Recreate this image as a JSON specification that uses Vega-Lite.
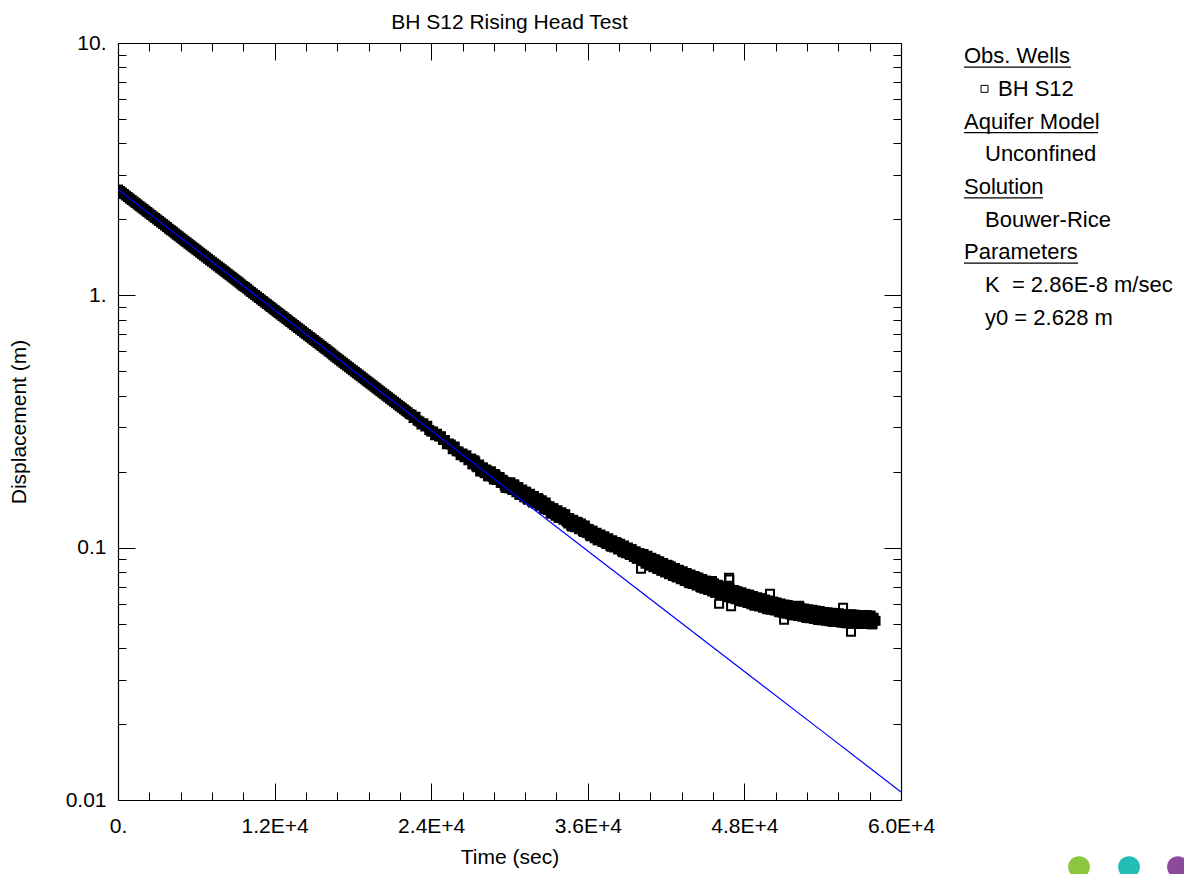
{
  "$schema": "https://vega.github.io/schema/vega-lite/v6.json",
  "background": "white",
  "padding": {"left": 8, "top": 12, "right": 0, "bottom": 0},
  "spacing": 63,
  "bounds": "flush",
  "config": {
    "font": "Liberation Sans",
    "view": {"stroke": null},
    "axis": {
      "labelFont": "Liberation Sans", "titleFont": "Liberation Sans",
      "labelFontSize": 21, "titleFontSize": 21, "titleFontWeight": "normal",
      "labelColor": "black", "titleColor": "black", "tickColor": "black",
      "domainColor": "black", "domainWidth": 1.2, "tickWidth": 1, "grid": false,
      "labelFlush": false, "labelOverlap": false
    }
  },
  "datasets": {
    "obs": [
      {"t":0,"d":2.628},{"t":150,"d":2.592},{"t":300,"d":2.557},{"t":450,"d":2.522},{"t":600,"d":2.487},{"t":750,"d":2.454},{"t":900,"d":2.420},{"t":1050,"d":2.387},{"t":1200,"d":2.354},{"t":1350,"d":2.322},
      {"t":1500,"d":2.291},{"t":1650,"d":2.259},{"t":1800,"d":2.228},{"t":1950,"d":2.198},{"t":2100,"d":2.168},{"t":2250,"d":2.138},{"t":2400,"d":2.109},{"t":2550,"d":2.080},{"t":2700,"d":2.052},{"t":2850,"d":2.024},
      {"t":3000,"d":1.996},{"t":3150,"d":1.969},{"t":3300,"d":1.942},{"t":3450,"d":1.916},{"t":3600,"d":1.890},{"t":3750,"d":1.864},{"t":3900,"d":1.838},{"t":4050,"d":1.813},{"t":4200,"d":1.789},{"t":4350,"d":1.764},
      {"t":4500,"d":1.740},{"t":4650,"d":1.716},{"t":4800,"d":1.693},{"t":4950,"d":1.670},{"t":5100,"d":1.647},{"t":5250,"d":1.624},{"t":5400,"d":1.602},{"t":5550,"d":1.580},{"t":5700,"d":1.559},{"t":5850,"d":1.538},
      {"t":6000,"d":1.517},{"t":6150,"d":1.496},{"t":6300,"d":1.475},{"t":6450,"d":1.455},{"t":6600,"d":1.435},{"t":6750,"d":1.416},{"t":6900,"d":1.396},{"t":7050,"d":1.377},{"t":7200,"d":1.359},{"t":7350,"d":1.340},
      {"t":7500,"d":1.322},{"t":7650,"d":1.304},{"t":7800,"d":1.286},{"t":7950,"d":1.268},{"t":8100,"d":1.251},{"t":8250,"d":1.234},{"t":8400,"d":1.217},{"t":8550,"d":1.201},{"t":8700,"d":1.184},{"t":8850,"d":1.168},
      {"t":9000,"d":1.152},{"t":9150,"d":1.136},{"t":9300,"d":1.121},{"t":9450,"d":1.105},{"t":9600,"d":1.090},{"t":9750,"d":1.076},{"t":9900,"d":1.061},{"t":10050,"d":1.046},{"t":10200,"d":1.032},{"t":10350,"d":1.018},
      {"t":10500,"d":1.004},{"t":10650,"d":0.9904},{"t":10800,"d":0.9769},{"t":10950,"d":0.9635},{"t":11100,"d":0.9504},{"t":11250,"d":0.9374},{"t":11400,"d":0.9246},{"t":11550,"d":0.9120},{"t":11700,"d":0.8996},{"t":11850,"d":0.8873},
      {"t":12000,"d":0.8752},{"t":12150,"d":0.8632},{"t":12300,"d":0.8514},{"t":12450,"d":0.8398},{"t":12600,"d":0.8283},{"t":12750,"d":0.8170},{"t":12900,"d":0.8059},{"t":13050,"d":0.7949},{"t":13200,"d":0.7840},{"t":13350,"d":0.7733},
      {"t":13500,"d":0.7628},{"t":13650,"d":0.7523},{"t":13800,"d":0.7421},{"t":13950,"d":0.7319},{"t":14100,"d":0.7220},{"t":14250,"d":0.7121},{"t":14400,"d":0.7024},{"t":14550,"d":0.6928},{"t":14700,"d":0.6833},{"t":14850,"d":0.6740},
      {"t":15000,"d":0.6648},{"t":15150,"d":0.6557},{"t":15300,"d":0.6468},{"t":15450,"d":0.6380},{"t":15600,"d":0.6292},{"t":15750,"d":0.6207},{"t":15900,"d":0.6122},{"t":16050,"d":0.6038},{"t":16200,"d":0.5956},{"t":16350,"d":0.5875},
      {"t":16500,"d":0.5794},{"t":16650,"d":0.5715},{"t":16800,"d":0.5637},{"t":16950,"d":0.5560},{"t":17100,"d":0.5484},{"t":17250,"d":0.5409},{"t":17400,"d":0.5336},{"t":17550,"d":0.5263},{"t":17700,"d":0.5191},{"t":17850,"d":0.5120},
      {"t":18000,"d":0.5050},{"t":18150,"d":0.4981},{"t":18300,"d":0.4913},{"t":18450,"d":0.4846},{"t":18600,"d":0.4780},{"t":18750,"d":0.4715},{"t":18900,"d":0.4650},{"t":19050,"d":0.4587},{"t":19200,"d":0.4524},{"t":19350,"d":0.4463},
      {"t":19500,"d":0.4402},{"t":19650,"d":0.4342},{"t":19800,"d":0.4282},{"t":19950,"d":0.4224},{"t":20100,"d":0.4166},{"t":20250,"d":0.4109},{"t":20400,"d":0.4053},{"t":20550,"d":0.3998},{"t":20700,"d":0.3943},{"t":20850,"d":0.3890},
      {"t":21000,"d":0.3836},{"t":21150,"d":0.3784},{"t":21300,"d":0.3732},{"t":21450,"d":0.3681},{"t":21600,"d":0.3631},{"t":21750,"d":0.3582},{"t":21900,"d":0.3533},{"t":22050,"d":0.3485},{"t":22200,"d":0.3437},{"t":22350,"d":0.3390},
      {"t":22500,"d":0.3361},{"t":22650,"d":0.3265},{"t":22800,"d":0.3302},{"t":22950,"d":0.3193},{"t":23100,"d":0.3165},{"t":23250,"d":0.3075},{"t":23400,"d":0.3110},{"t":23550,"d":0.3022},{"t":23700,"d":0.3041},{"t":23850,"d":0.2925},
      {"t":24000,"d":0.2885},{"t":24150,"d":0.2889},{"t":24300,"d":0.2792},{"t":24450,"d":0.2825},{"t":24600,"d":0.2758},{"t":24750,"d":0.2762},{"t":24900,"d":0.2671},{"t":25050,"d":0.2673},{"t":25200,"d":0.2572},{"t":25350,"d":0.2588},
      {"t":25500,"d":0.2565},{"t":25650,"d":0.2455},{"t":25800,"d":0.2520},{"t":25950,"d":0.2413},{"t":26100,"d":0.2404},{"t":26250,"d":0.2324},{"t":26400,"d":0.2362},{"t":26550,"d":0.2284},{"t":26700,"d":0.2322},{"t":26850,"d":0.2222},
      {"t":27000,"d":0.2236},{"t":27150,"d":0.2140},{"t":27300,"d":0.2219},{"t":27450,"d":0.2103},{"t":27600,"d":0.2095},{"t":27750,"d":0.2005},{"t":27900,"d":0.2080},{"t":28050,"d":0.1991},{"t":28200,"d":0.2042},{"t":28350,"d":0.1917},
      {"t":28500,"d":0.1929},{"t":28650,"d":0.1962},{"t":28800,"d":0.1862},{"t":28950,"d":0.1932},{"t":29100,"d":0.1870},{"t":29250,"d":0.1901},{"t":29400,"d":0.1804},{"t":29550,"d":0.1835},{"t":29700,"d":0.1723},{"t":29850,"d":0.1771},
      {"t":30000,"d":0.1783},{"t":30150,"d":0.1710},{"t":30300,"d":0.1778},{"t":30450,"d":0.1691},{"t":30600,"d":0.1689},{"t":30750,"d":0.1620},{"t":30900,"d":0.1685},{"t":31050,"d":0.1617},{"t":31200,"d":0.1664},{"t":31350,"d":0.1565},
      {"t":31500,"d":0.1556},{"t":31650,"d":0.1587},{"t":31800,"d":0.1509},{"t":31950,"d":0.1573},{"t":32100,"d":0.1526},{"t":32250,"d":0.1556},{"t":32400,"d":0.1481},{"t":32550,"d":0.1510},{"t":32700,"d":0.1422},{"t":32850,"d":0.1467},
      {"t":33000,"d":0.1432},{"t":33150,"d":0.1376},{"t":33300,"d":0.1434},{"t":33450,"d":0.1365},{"t":33600,"d":0.1366},{"t":33750,"d":0.1313},{"t":33900,"d":0.1368},{"t":34050,"d":0.1315},{"t":34200,"d":0.1355},{"t":34350,"d":0.1278},
      {"t":34500,"d":0.1248},{"t":34650,"d":0.1275},{"t":34800,"d":0.1214},{"t":34950,"d":0.1266},{"t":35100,"d":0.1231},{"t":35250,"d":0.1257},{"t":35400,"d":0.1198},{"t":35550,"d":0.1224},{"t":35700,"d":0.1154},{"t":35850,"d":0.1192},
      {"t":36000,"d":0.1164},{"t":36150,"d":0.1120},{"t":36300,"d":0.1167},{"t":36450,"d":0.1112},{"t":36600,"d":0.1114},{"t":36750,"d":0.1071},{"t":36900,"d":0.1117},{"t":37050,"d":0.1075},{"t":37200,"d":0.1108},{"t":37350,"d":0.1046},
      {"t":37500,"d":0.1037},{"t":37650,"d":0.1059},{"t":37800,"d":0.1009},{"t":37950,"d":0.1053},{"t":38100,"d":0.1023},{"t":38250,"d":0.1044},{"t":38400,"d":0.0996},{"t":38550,"d":0.1017},{"t":38700,"d":0.0959},{"t":38850,"d":0.0990},
      {"t":39000,"d":0.0982},{"t":39150,"d":0.0945},{"t":39300,"d":0.0985},{"t":39450,"d":0.0938},{"t":39600,"d":0.0939},{"t":39750,"d":0.0903},{"t":39900,"d":0.0942},{"t":40050,"d":0.0907},{"t":40200,"d":0.0935},{"t":40350,"d":0.0882},
      {"t":40500,"d":0.0875},{"t":40650,"d":0.0894},{"t":40800,"d":0.0852},{"t":40950,"d":0.0888},{"t":41100,"d":0.0864},{"t":41250,"d":0.0883},{"t":41400,"d":0.0842},{"t":41550,"d":0.0861},{"t":41700,"d":0.0812},{"t":41850,"d":0.0838},
      {"t":42000,"d":0.0831},{"t":42150,"d":0.0801},{"t":42300,"d":0.0835},{"t":42450,"d":0.0797},{"t":42600,"d":0.0799},{"t":42750,"d":0.0769},{"t":42900,"d":0.0803},{"t":43050,"d":0.0773},{"t":43200,"d":0.0798},{"t":43350,"d":0.0754},
      {"t":43500,"d":0.0748},{"t":43650,"d":0.0766},{"t":43800,"d":0.0723},{"t":43950,"d":0.0762},{"t":44100,"d":0.0742},{"t":44250,"d":0.0766},{"t":44400,"d":0.0725},{"t":44550,"d":0.0742},{"t":44700,"d":0.0693},{"t":44850,"d":0.0724},
      {"t":45000,"d":0.0719},{"t":45150,"d":0.0694},{"t":45300,"d":0.0731},{"t":45450,"d":0.0692},{"t":45600,"d":0.0695},{"t":45750,"d":0.0662},{"t":45900,"d":0.0700},{"t":46050,"d":0.0675},{"t":46200,"d":0.0705},{"t":46350,"d":0.0660},
      {"t":46500,"d":0.0656},{"t":46650,"d":0.0672},{"t":46800,"d":0.0636},{"t":46950,"d":0.0671},{"t":47100,"d":0.0654},{"t":47250,"d":0.0676},{"t":47400,"d":0.0640},{"t":47550,"d":0.0656},{"t":47700,"d":0.0613},{"t":47850,"d":0.0641},
      {"t":48000,"d":0.0638},{"t":48150,"d":0.0615},{"t":48300,"d":0.0650},{"t":48450,"d":0.0616},{"t":48600,"d":0.0619},{"t":48750,"d":0.0590},{"t":48900,"d":0.0624},{"t":49050,"d":0.0603},{"t":49200,"d":0.0630},{"t":49350,"d":0.0590},
      {"t":49500,"d":0.0587},{"t":49650,"d":0.0602},{"t":49800,"d":0.0570},{"t":49950,"d":0.0603},{"t":50100,"d":0.0588},{"t":50250,"d":0.0609},{"t":50400,"d":0.0577},{"t":50550,"d":0.0592},{"t":50700,"d":0.0555},{"t":50850,"d":0.0581},
      {"t":51000,"d":0.0578},{"t":51150,"d":0.0559},{"t":51300,"d":0.0591},{"t":51450,"d":0.0560},{"t":51600,"d":0.0564},{"t":51750,"d":0.0540},{"t":51900,"d":0.0571},{"t":52050,"d":0.0552},{"t":52200,"d":0.0578},{"t":52350,"d":0.0543},
      {"t":52500,"d":0.0541},{"t":52650,"d":0.0556},{"t":52800,"d":0.0526},{"t":52950,"d":0.0558},{"t":53100,"d":0.0545},{"t":53250,"d":0.0565},{"t":53400,"d":0.0537},{"t":53550,"d":0.0551},{"t":53700,"d":0.0517},{"t":53850,"d":0.0542},
      {"t":54000,"d":0.0540},{"t":54150,"d":0.0523},{"t":54300,"d":0.0554},{"t":54450,"d":0.0527},{"t":54600,"d":0.0531},{"t":54750,"d":0.0509},{"t":54900,"d":0.0540},{"t":55050,"d":0.0523},{"t":55200,"d":0.0548},{"t":55350,"d":0.0515},
      {"t":55500,"d":0.0514},{"t":55650,"d":0.0529},{"t":55800,"d":0.0502},{"t":55950,"d":0.0533},{"t":56100,"d":0.0522},{"t":56250,"d":0.0543},{"t":56400,"d":0.0516},{"t":56550,"d":0.0531},{"t":56700,"d":0.0499},{"t":56850,"d":0.0525},
      {"t":57000,"d":0.0525},{"t":57150,"d":0.0509},{"t":57300,"d":0.0540},{"t":57450,"d":0.0514},{"t":57600,"d":0.0518},{"t":57750,"d":0.0497},{"t":57900,"d":0.0528},{"t":58050,"d":0.0513},
      {"t":27075,"d":0.2258},{"t":27225,"d":0.2140},{"t":27375,"d":0.2197},{"t":27525,"d":0.2082},{"t":27675,"d":0.2137},{"t":27825,"d":0.2026},{"t":27975,"d":0.2080},{"t":28125,"d":0.1971},{"t":28275,"d":0.2023},{"t":28425,"d":0.1917},
      {"t":28575,"d":0.2008},{"t":28725,"d":0.1904},{"t":28875,"d":0.1957},{"t":29025,"d":0.1856},{"t":29175,"d":0.1907},{"t":29325,"d":0.1809},{"t":29475,"d":0.1859},{"t":29625,"d":0.1764},{"t":29775,"d":0.1812},{"t":29925,"d":0.1719},
      {"t":30075,"d":0.1818},{"t":30225,"d":0.1693},{"t":30375,"d":0.1778},{"t":30525,"d":0.1657},{"t":30675,"d":0.1740},{"t":30825,"d":0.1620},{"t":30975,"d":0.1701},{"t":31125,"d":0.1585},{"t":31275,"d":0.1664},{"t":31425,"d":0.1550},
      {"t":31575,"d":0.1635},{"t":31725,"d":0.1525},{"t":31875,"d":0.1603},{"t":32025,"d":0.1495},{"t":32175,"d":0.1572},{"t":32325,"d":0.1466},{"t":32475,"d":0.1540},{"t":32625,"d":0.1436},{"t":32775,"d":0.1510},{"t":32925,"d":0.1409},
      {"t":33075,"d":0.1460},{"t":33225,"d":0.1362},{"t":33375,"d":0.1434},{"t":33525,"d":0.1337},{"t":33675,"d":0.1407},{"t":33825,"d":0.1313},{"t":33975,"d":0.1381},{"t":34125,"d":0.1289},{"t":34275,"d":0.1355},{"t":34425,"d":0.1265},
      {"t":34575,"d":0.1312},{"t":34725,"d":0.1225},{"t":34875,"d":0.1289},{"t":35025,"d":0.1204},{"t":35175,"d":0.1268},{"t":35325,"d":0.1183},{"t":35475,"d":0.1246},{"t":35625,"d":0.1164},{"t":35775,"d":0.1225},{"t":35925,"d":0.1144},
      {"t":36075,"d":0.1187},{"t":36225,"d":0.1109},{"t":36375,"d":0.1167},{"t":36525,"d":0.1089},{"t":36675,"d":0.1147},{"t":36825,"d":0.1071},{"t":36975,"d":0.1128},{"t":37125,"d":0.1053},{"t":37275,"d":0.1108},{"t":37425,"d":0.1035},
      {"t":37575,"d":0.1090},{"t":37725,"d":0.1018},{"t":37875,"d":0.1071},{"t":38025,"d":0.1001},{"t":38175,"d":0.1054},{"t":38325,"d":0.0984},{"t":38475,"d":0.1036},{"t":38625,"d":0.0967},{"t":38775,"d":0.1019},{"t":38925,"d":0.0951},
      {"t":39075,"d":0.1001},{"t":39225,"d":0.0935},{"t":39375,"d":0.0985},{"t":39525,"d":0.0919},{"t":39675,"d":0.0967},{"t":39825,"d":0.0903},{"t":39975,"d":0.0952},{"t":40125,"d":0.0889},{"t":40275,"d":0.0944},{"t":40425,"d":0.0864},
      {"t":40575,"d":0.0929},{"t":40725,"d":0.0850},{"t":40875,"d":0.0913},{"t":41025,"d":0.0836},{"t":41175,"d":0.0899},{"t":41325,"d":0.0823},{"t":41475,"d":0.0884},{"t":41625,"d":0.0810},{"t":41775,"d":0.0870},{"t":41925,"d":0.0797},
      {"t":42075,"d":0.0856},{"t":42225,"d":0.0784},{"t":42375,"d":0.0843},{"t":42525,"d":0.0773},{"t":42675,"d":0.0831},{"t":42825,"d":0.0761},{"t":42975,"d":0.0818},{"t":43125,"d":0.0750},{"t":43275,"d":0.0806},{"t":43425,"d":0.0738},
      {"t":43575,"d":0.0794},{"t":43725,"d":0.0728},{"t":43875,"d":0.0783},{"t":44025,"d":0.0717},{"t":44175,"d":0.0772},{"t":44325,"d":0.0708},{"t":44475,"d":0.0761},{"t":44625,"d":0.0698},{"t":44775,"d":0.0751},{"t":44925,"d":0.0688},
      {"t":45075,"d":0.0740},{"t":45225,"d":0.0680},{"t":45375,"d":0.0731},{"t":45525,"d":0.0671},{"t":45675,"d":0.0723},{"t":45825,"d":0.0662},{"t":45975,"d":0.0713},{"t":46125,"d":0.0655},{"t":46275,"d":0.0705},{"t":46425,"d":0.0646},
      {"t":46575,"d":0.0696},{"t":46725,"d":0.0638},{"t":46875,"d":0.0688},{"t":47025,"d":0.0632},{"t":47175,"d":0.0680},{"t":47325,"d":0.0624},{"t":47475,"d":0.0672},{"t":47625,"d":0.0617},{"t":47775,"d":0.0665},{"t":47925,"d":0.0610},
      {"t":48075,"d":0.0657},{"t":48225,"d":0.0603},{"t":48375,"d":0.0650},{"t":48525,"d":0.0597},{"t":48675,"d":0.0644},{"t":48825,"d":0.0590},{"t":48975,"d":0.0636},{"t":49125,"d":0.0585},{"t":49275,"d":0.0630},{"t":49425,"d":0.0578},
      {"t":49575,"d":0.0623},{"t":49725,"d":0.0572},{"t":49875,"d":0.0618},{"t":50025,"d":0.0567},{"t":50175,"d":0.0612},{"t":50325,"d":0.0563},{"t":50475,"d":0.0606},{"t":50625,"d":0.0557},{"t":50775,"d":0.0601},{"t":50925,"d":0.0552},
      {"t":51075,"d":0.0595},{"t":51225,"d":0.0547},{"t":51375,"d":0.0591},{"t":51525,"d":0.0543},{"t":51675,"d":0.0587},{"t":51825,"d":0.0540},{"t":51975,"d":0.0582},{"t":52125,"d":0.0536},{"t":52275,"d":0.0578},{"t":52425,"d":0.0532},
      {"t":52575,"d":0.0574},{"t":52725,"d":0.0528},{"t":52875,"d":0.0570},{"t":53025,"d":0.0525},{"t":53175,"d":0.0567},{"t":53325,"d":0.0521},{"t":53475,"d":0.0564},{"t":53625,"d":0.0518},{"t":53775,"d":0.0561},{"t":53925,"d":0.0516},
      {"t":54075,"d":0.0556},{"t":54225,"d":0.0513},{"t":54375,"d":0.0554},{"t":54525,"d":0.0511},{"t":54675,"d":0.0552},{"t":54825,"d":0.0509},{"t":54975,"d":0.0550},{"t":55125,"d":0.0507},{"t":55275,"d":0.0548},{"t":55425,"d":0.0504},
      {"t":55575,"d":0.0545},{"t":55725,"d":0.0503},{"t":55875,"d":0.0544},{"t":56025,"d":0.0502},{"t":56175,"d":0.0543},{"t":56325,"d":0.0501},{"t":56475,"d":0.0542},{"t":56625,"d":0.0500},{"t":56775,"d":0.0541},{"t":56925,"d":0.0499},
      {"t":57075,"d":0.0541},{"t":57225,"d":0.0498},{"t":57375,"d":0.0540},{"t":57525,"d":0.0498},{"t":57675,"d":0.0539},{"t":57825,"d":0.0497}
    ],
    "obsScatter": [
      {"t":40080,"d":0.0825},{"t":42220,"d":0.0850},{"t":45060,"d":0.0740},{"t":45520,"d":0.0738},{"t":46060,"d":0.0600},{"t":46820,"d":0.0760},{"t":46850,"d":0.0748},{"t":46980,"d":0.0586},{"t":49960,"d":0.0657},{"t":51040,"d":0.0518},{"t":52190,"d":0.0589},{"t":55560,"d":0.0578},{"t":56170,"d":0.0464}
    ],
    "fit": [
      {"t":0,"d":2.628},{"t":6000,"d":1.5165},{"t":12000,"d":0.8752},{"t":18000,"d":0.5050},{"t":24000,"d":0.2914},{"t":30000,"d":0.16815},{"t":36000,"d":0.09706},{"t":42000,"d":0.05602},{"t":48000,"d":0.03233},{"t":54000,"d":0.01866},{"t":60000,"d":0.010764}
    ],
    "legendText": [
      {"row":0,"label":"Obs. Wells","indent":0,"ul":107},
      {"row":1,"label":"BH S12","indent":34},
      {"row":2,"label":"Aquifer Model","indent":0,"ul":134},
      {"row":3,"label":"Unconfined","indent":21},
      {"row":4,"label":"Solution","indent":0,"ul":79},
      {"row":5,"label":"Bouwer-Rice","indent":21},
      {"row":6,"label":"Parameters","indent":0,"ul":114},
      {"row":7,"label":"K\u00a0 = 2.86E-8 m/sec","indent":21},
      {"row":8,"label":"y0 = 2.628 m","indent":21}
    ],
    "legendSymbol": [{"row":1,"indent":20.5}],
    "logo": [
      {"row":24.82,"indent":115,"name":"green"},
      {"row":24.82,"indent":165,"name":"teal"},
      {"row":24.82,"indent":214,"name":"purple"}
    ]
  },
  "hconcat": [
    {
      "title": {"text": "BH S12 Rising Head Test", "fontSize": 21, "fontWeight": "normal", "font": "Liberation Sans", "color": "black", "offset": -1, "anchor": "middle"},
      "width": 783,
      "height": 757,
      "layer": [
        {
          "data": {"name": "obs"},
          "mark": {"type": "point", "shape": "square", "size": 64, "strokeWidth": 2, "color": "black", "opacity": 1, "filled": true, "stroke": "black", "clip": true},
          "encoding": {
            "x": {"field": "t", "type": "quantitative", "scale": {"domain": [0, 60000], "nice": false, "zero": false},
              "axis": {"orient": "bottom",
                "values": [0,2400,4800,7200,9600,12000,14400,16800,19200,21600,24000,26400,28800,31200,33600,36000,38400,40800,43200,45600,48000,50400,52800,55200,57600,60000],
                "tickSize": {"condition": {"test": "datum.value % 12000 === 0", "value": -17}, "value": -8},
                "labelExpr": "datum.value % 12000 === 0 ? (datum.value === 0 ? '0.' : format(datum.value / 10000, '.1f') + 'E+4') : ''",
                "labelPadding": 32, "title": "Time (sec)", "titlePadding": 1}},
            "y": {"field": "d", "type": "quantitative", "scale": {"type": "log", "domain": [0.01, 10], "nice": false},
              "axis": {"orient": "left",
                "values": [0.01,0.02,0.03,0.04,0.05,0.06,0.07,0.08,0.09,0.1,0.2,0.3,0.4,0.5,0.6,0.7,0.8,0.9,1,2,3,4,5,6,7,8,9,10],
                "tickSize": {"condition": {"test": "datum.value === 0.01 || datum.value === 0.1 || datum.value === 1 || datum.value === 10", "value": -17}, "value": -8},
                "labelExpr": "datum.value === 10 ? '10.' : datum.value === 1 ? '1.' : datum.value === 0.1 ? '0.1' : datum.value === 0.01 ? '0.01' : ''",
                "labelPadding": 29, "title": "Displacement (m)", "titlePadding": 36}}
          }
        },
        {
          "data": {"name": "obsScatter"},
          "mark": {"type": "point", "shape": "square", "size": 64, "strokeWidth": 2, "color": "black", "opacity": 1, "filled": false, "clip": true},
          "encoding": {
            "x": {"field": "t", "type": "quantitative", "axis": null},
            "y": {"field": "d", "type": "quantitative", "axis": null}
          }
        },
        {
          "data": {"name": "fit"},
          "mark": {"type": "line", "color": "#0000ff", "strokeWidth": 1.2, "clip": true},
          "encoding": {
            "x": {"field": "t", "type": "quantitative",
              "axis": {"orient": "top",
                "values": [0,2400,4800,7200,9600,12000,14400,16800,19200,21600,24000,26400,28800,31200,33600,36000,38400,40800,43200,45600,48000,50400,52800,55200,57600,60000],
                "tickSize": {"condition": {"test": "datum.value % 12000 === 0", "value": -17}, "value": -8},
                "labels": false, "title": null}},
            "y": {"field": "d", "type": "quantitative",
              "axis": {"orient": "right",
                "values": [0.01,0.02,0.03,0.04,0.05,0.06,0.07,0.08,0.09,0.1,0.2,0.3,0.4,0.5,0.6,0.7,0.8,0.9,1,2,3,4,5,6,7,8,9,10],
                "tickSize": {"condition": {"test": "datum.value === 0.01 || datum.value === 0.1 || datum.value === 1 || datum.value === 10", "value": -17}, "value": -8},
                "labels": false, "title": null}}
          }
        }
      ],
      "resolve": {"axis": {"x": "independent", "y": "independent"}}
    },
    {
      "width": 221,
      "height": 757,
      "layer": [
        {
          "data": {"name": "legendText"},
          "mark": {"type": "text", "align": "left", "baseline": "middle", "fontSize": 22, "font": "Liberation Sans", "color": "black"},
          "encoding": {
            "x": {"field": "indent", "type": "quantitative", "scale": {"domain": [0, 221], "nice": false, "zero": false}, "axis": null},
            "y": {"field": "row", "type": "quantitative", "scale": {"domain": [-0.404, 22.767], "reverse": true, "nice": false, "zero": false}, "axis": null},
            "text": {"field": "label", "type": "nominal"}
          }
        },
        {
          "data": {"name": "legendText"},
          "transform": [{"filter": "datum.ul > 0"}],
          "mark": {"type": "rule", "color": "black", "strokeWidth": 1.2, "yOffset": 11},
          "encoding": {
            "x": {"field": "indent", "type": "quantitative"},
            "x2": {"field": "ul"},
            "y": {"field": "row", "type": "quantitative"}
          }
        },
        {
          "data": {"name": "legendSymbol"},
          "mark": {"type": "point", "shape": "square", "size": 49, "strokeWidth": 1, "color": "black", "opacity": 1, "filled": false},
          "encoding": {
            "x": {"field": "indent", "type": "quantitative"},
            "y": {"field": "row", "type": "quantitative"}
          }
        },
        {
          "data": {"name": "logo"},
          "mark": {"type": "circle", "size": 475, "opacity": 1},
          "encoding": {
            "x": {"field": "indent", "type": "quantitative"},
            "y": {"field": "row", "type": "quantitative"},
            "color": {"field": "name", "type": "nominal", "scale": {"domain": ["green", "teal", "purple"], "range": ["#8cc63f", "#22bdb5", "#8b4a9c"]}, "legend": null}
          }
        }
      ]
    }
  ]
}
